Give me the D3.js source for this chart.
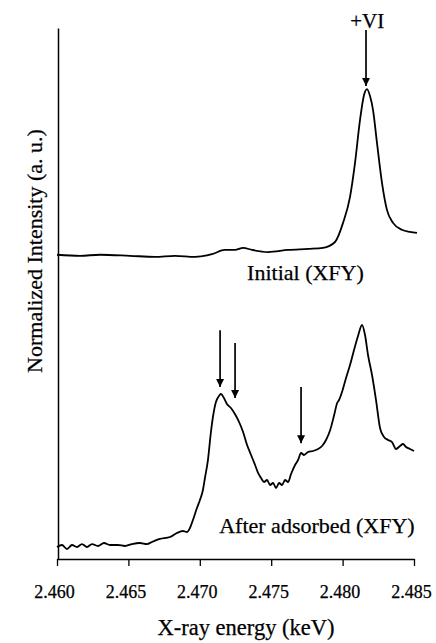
<!DOCTYPE html>
<html>
<head>
<meta charset="utf-8">
<script src="https://cdn.jsdelivr.net/npm/d3@7"></script>
<style>
  html, body { margin: 0; padding: 0; background: #fff; }
  svg { display: block; }
  text { font-family: "Liberation Serif", "Times New Roman", serif; fill: #000; stroke: #000; stroke-width: 0.25px; }
</style>
</head>
<body>
<svg id="chart" width="436" height="643"></svg>
<script>
// ---- Data ----
const xTicks = [2.460, 2.465, 2.470, 2.475, 2.480, 2.485];

const initialEnergy = [2.46000, 2.46161, 2.46301, 2.46511, 2.46686, 2.46826, 2.46966, 2.47085, 2.47176, 2.47246,
  2.47303, 2.47366, 2.47478, 2.47618, 2.47758, 2.47863, 2.47947, 2.48003, 2.48052, 2.48087,
  2.48122, 2.48150, 2.48171, 2.48192, 2.48213, 2.48241, 2.48276, 2.48311, 2.48353, 2.48416,
  2.48472, 2.48521];
const initialIntensity = [5.73, 5.71, 5.73, 5.71, 5.69, 5.71, 5.69, 5.74, 5.82, 5.82,
  5.86, 5.82, 5.78, 5.82, 5.84, 5.86, 5.97, 6.33, 6.82, 7.46,
  8.27, 8.74, 8.85, 8.72, 8.46, 7.83, 7.08, 6.57, 6.33, 6.20,
  6.16, 6.14];

const adsorbedEnergy = [2.46000, 2.46035, 2.46070, 2.46105, 2.46140, 2.46175, 2.46210, 2.46245, 2.46287, 2.46329,
  2.46371, 2.46427, 2.46476, 2.46525, 2.46581, 2.46630, 2.46665, 2.46721, 2.46791, 2.46840,
  2.46882, 2.46910, 2.46931, 2.46952, 2.46980, 2.47001, 2.47022, 2.47036, 2.47057, 2.47078,
  2.47092, 2.47113, 2.47134, 2.47148, 2.47169, 2.47190, 2.47218, 2.47246, 2.47275, 2.47303,
  2.47331, 2.47359, 2.47387, 2.47408, 2.47429, 2.47450, 2.47471, 2.47492, 2.47513, 2.47534,
  2.47555, 2.47576, 2.47597, 2.47618, 2.47639, 2.47667, 2.47688, 2.47709, 2.47730, 2.47758,
  2.47793, 2.47828, 2.47856, 2.47884, 2.47913, 2.47941, 2.47962, 2.47975, 2.47996, 2.48024,
  2.48052, 2.48080, 2.48108, 2.48136, 2.48157, 2.48178, 2.48206, 2.48234, 2.48262, 2.48290,
  2.48318, 2.48346, 2.48374, 2.48402, 2.48423, 2.48444, 2.48472, 2.48500];
const adsorbedIntensity = [0.226, 0.264, 0.188, 0.264, 0.226, 0.282, 0.226, 0.282, 0.245, 0.301,
  0.264, 0.264, 0.245, 0.282, 0.301, 0.282, 0.320, 0.377, 0.414, 0.490,
  0.527, 0.508, 0.584, 0.734, 0.960, 1.111, 1.299, 1.525, 1.864, 2.392,
  2.674, 2.957, 3.070, 3.107, 3.032, 2.919, 2.844, 2.731, 2.580, 2.392,
  2.147, 1.959, 1.770, 1.620, 1.525, 1.450, 1.488, 1.394, 1.431, 1.337,
  1.431, 1.394, 1.488, 1.450, 1.601, 1.770, 1.864, 1.996, 1.959, 2.015,
  2.034, 2.072, 2.128, 2.241, 2.429, 2.712, 2.938, 2.994, 3.145, 3.409,
  3.653, 3.936, 4.200, 4.407, 4.218, 3.842, 3.465, 2.994, 2.467, 2.298,
  2.241, 2.203, 2.072, 2.128, 2.166, 2.109, 2.072, 2.034];

// arrows: energy, start intensity, tip intensity
const arrowEnergy = [2.48164, 2.47142, 2.47247, 2.47709];
const arrowFrom   = [9.96, 4.31, 4.07, 3.24];
const arrowTo     = [8.91, 3.24, 3.03, 2.18];

const labels = ["+VI", "Initial (XFY)", "After adsorbed (XFY)"];
const labelEnergy = [2.48172, 2.47740, 2.48505];
const labelIntensity = [10.0, 5.26, 0.49];
const labelAnchor = ["middle", "middle", "end"];

// ---- Layout ----
const margin = {left: 57, top: 28, right: 22, bottom: 84};
const W = 436, H = 643;
const svg = d3.select("#chart");

const x = d3.scaleLinear().domain([2.460, 2.485]).range([margin.left, W - margin.right]);
const y = d3.scaleLinear().domain([0, 10]).range([H - margin.bottom, margin.top]);

// axes
const xAxis = d3.axisBottom(x).tickValues(xTicks).tickFormat(d3.format(".3f")).tickSize(7).tickSizeOuter(0);
const gx = svg.append("g").attr("transform", `translate(0,${y(0)})`).call(xAxis);
gx.select(".domain").attr("stroke", "#000").attr("stroke-width", 1.5);
gx.selectAll(".tick line").attr("stroke", "#000").attr("stroke-width", 1.3);
gx.selectAll(".tick text").attr("font-size", "18px").attr("font-family", "Liberation Serif")
  .attr("dx", -3).attr("dy", "1.62em");

const yAxis = d3.axisLeft(y).tickValues([]).tickSizeOuter(0);
const gy = svg.append("g").attr("transform", `translate(${margin.left + 1},0)`).call(yAxis);
gy.select(".domain").attr("stroke", "#000").attr("stroke-width", 1.5);

// axis titles
svg.append("text")
  .attr("x", 246).attr("y", 635)
  .attr("text-anchor", "middle").attr("font-size", "22.5px")
  .text("X-ray energy (keV)");
svg.append("text")
  .attr("transform", `translate(42,251) rotate(-90)`)
  .attr("text-anchor", "middle").attr("font-size", "22px")
  .text("Normalized Intensity (a. u.)");

// lines
const line = d3.line().x(d => x(d[0])).y(d => y(d[1])).curve(d3.curveMonotoneX);
const initial = initialEnergy.map((e, i) => [e, initialIntensity[i]]);
const adsorbed = adsorbedEnergy.map((e, i) => [e, adsorbedIntensity[i]]);

svg.append("path").datum(initial).attr("d", line)
  .attr("fill", "none").attr("stroke", "#000").attr("stroke-width", 1.8).attr("stroke-linejoin", "round");
svg.append("path").datum(adsorbed).attr("d", line)
  .attr("fill", "none").attr("stroke", "#000").attr("stroke-width", 1.8).attr("stroke-linejoin", "round");

// arrows
svg.append("defs").append("marker")
  .attr("id", "ah").attr("viewBox", "0 0 10 10").attr("refX", 10).attr("refY", 5)
  .attr("markerUnits", "userSpaceOnUse").attr("markerWidth", 8).attr("markerHeight", 9)
  .attr("orient", "auto")
  .append("path").attr("d", "M0,0 L10,5 L0,10 Z").attr("fill", "#000");

arrowEnergy.forEach((e, i) => {
  svg.append("line")
    .attr("x1", x(e)).attr("x2", x(e))
    .attr("y1", y(arrowFrom[i])).attr("y2", y(arrowTo[i]))
    .attr("stroke", "#000").attr("stroke-width", 1.7)
    .attr("marker-end", "url(#ah)");
});

// labels
labels.forEach((t, i) => {
  svg.append("text")
    .attr("x", x(labelEnergy[i])).attr("y", y(labelIntensity[i]))
    .attr("text-anchor", labelAnchor[i]).attr("font-size", i === 0 ? "21px" : "22px")
    .text(t);
});
</script>
</body>
</html>
